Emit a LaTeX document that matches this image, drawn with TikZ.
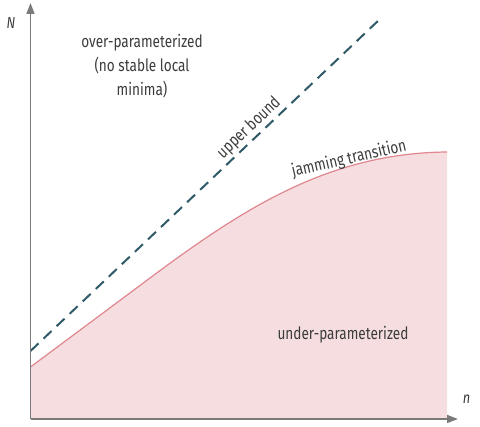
\documentclass[tikz,border=0pt]{standalone}
\usepackage{fontspec}
\setmainfont[FakeStretch=0.8]{Fira Sans}
\usetikzlibrary{arrows.meta}
\definecolor{axisgray}{HTML}{7A7A7A}
\definecolor{jamred}{HTML}{E0868E}
\definecolor{jamfill}{HTML}{F5DDE0}
\definecolor{boundteal}{HTML}{2F5A68}
\definecolor{txt}{HTML}{3C3C3C}
\begin{document}
\begin{tikzpicture}[x=1pt,y=-1pt,
  axis/.style={draw=axisgray,line width=1.6pt,-{Triangle[length=11pt,width=8pt]}},
  lbl/.style={text=txt,font=\fontsize{17}{24}\selectfont,inner sep=0pt,align=center},
  axlbl/.style={text=txt,font=\fontsize{16}{18}\selectfont\itshape,inner sep=0pt},
  bounddash/.style={draw=boundteal,line width=2pt,dash pattern=on 11pt off 7pt}]
\useasboundingbox (0,0) rectangle (480,427);
\coordinate (O) at (30.5,419);
\coordinate (Ytip) at (30.5,3);
\coordinate (Xtip) at (458,419);
\coordinate (Jstart) at (30.5,367);
\coordinate (Jmid) at (150,278);
\coordinate (Jend) at (447,152);
\coordinate (Xend) at (447,419);
\coordinate (Bstart) at (30.5,351);
\coordinate (Bend) at (380,19);
\fill[jamfill] (O) -- (Jstart) -- (Jmid) .. controls (245,207.2) and (330,153) .. (Jend) -- (Xend) -- cycle;
\draw[jamred,line width=1.2pt] (Jstart) -- (Jmid) .. controls (245,207.2) and (330,153) .. (Jend);
\draw[bounddash] (Bstart) -- (Bend);
\draw[axis] (O) -- (Ytip);
\draw[axis] (O) -- (Xtip);
\node[lbl] (over) at (142,66) {over-parameterized\\(no stable local\\minima)};
\node[lbl,rotate=43.6] (ub) at (249,128) {upper bound};
\node[lbl,rotate=13] (jt) at (349,159) {jamming transition};
\node[lbl] (under) at (343,335) {under-parameterized};
\node[axlbl] (nlab) at (466.5,399) {n};
\node[axlbl] (Nlab) at (11,23) {N};
\end{tikzpicture}
\end{document}
